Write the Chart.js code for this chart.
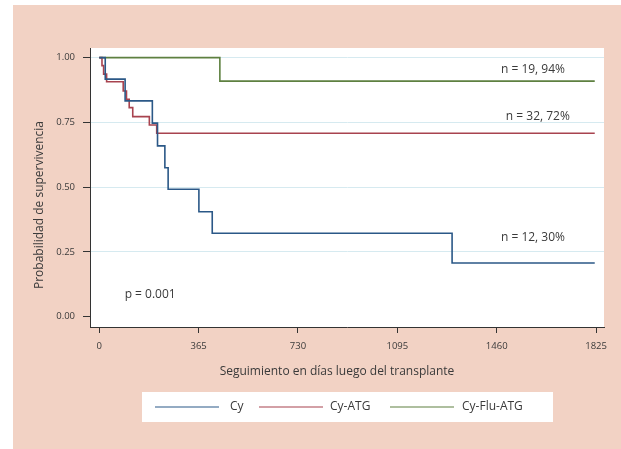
<!DOCTYPE html>
<html><head><meta charset="utf-8">
<script src="https://cdn.jsdelivr.net/npm/chart.js@4.4.0/dist/chart.umd.min.js"></script>
<style>html,body{margin:0;padding:0;background:#fff;}#wrap{width:621px;height:449px;position:relative}</style>
</head><body><div id="wrap"><canvas id="c" width="621" height="449"></canvas></div>
<script>
// ---- data ----
const xTicks = [0, 365, 730, 1095, 1460, 1825];
const yTicks = [0, 0.25, 0.5, 0.75, 1];
const seriesNames = ['Cy', 'Cy-ATG', 'Cy-Flu-ATG'];
const cyDays  = [0, 22, 95, 195, 214, 241, 253, 366, 415, 1296, 1820];
const cySurv  = [1, 0.917, 0.833, 0.747, 0.659, 0.575, 0.492, 0.405, 0.322, 0.207, 0.207];
const atgDays = [0, 10, 16, 27, 88, 100, 110, 123, 184, 211, 1820];
const atgSurv = [1, 0.969, 0.936, 0.907, 0.871, 0.839, 0.807, 0.772, 0.740, 0.708, 0.708];
const fluDays = [0, 443, 1820];
const fluSurv = [1, 0.909, 0.909];
const groupLabels = ['n = 12, 30%', 'n = 32, 72%', 'n = 19, 94%'];
const pText = 'p = 0.001';
const xTitle = 'Seguimiento en días luego del transplante';
const yTitle = 'Probabilidad de supervivencia';

const FONT = "'Open Sans', 'Noto Sans', sans-serif";
const TXT = '#3a3a3a';
const colors = ['#2b5887', '#a8434f', '#5e8040'];

const toPts = (d, s) => d.map((x, i) => ({x, y: s[i]}));
const datasets = [
  {label: seriesNames[0], data: toPts(cyDays, cySurv)},
  {label: seriesNames[1], data: toPts(atgDays, atgSurv)},
  {label: seriesNames[2], data: toPts(fluDays, fluSurv)}
].map((d, i) => Object.assign(d, {borderColor: colors[i], borderWidth: 1.6, pointRadius: 0, stepped: 'before', fill: false}));

const deco = {
  id: 'deco',
  beforeDraw(chart) {
    const {ctx, chartArea: a} = chart;
    ctx.save();
    ctx.fillStyle = '#fff'; ctx.fillRect(0, 0, chart.width, chart.height);
    ctx.fillStyle = '#f2d2c4'; ctx.fillRect(13, 5, chart.width - 13, chart.height - 5);
    ctx.fillStyle = '#fff'; ctx.fillRect(a.left, a.top, a.right - a.left, a.bottom - a.top);
    ctx.restore();
  },
  afterDraw(chart) {
    const {ctx, scales: {x, y}} = chart;
    ctx.save();
    ctx.fillStyle = TXT;
    ctx.textAlign = 'center'; ctx.textBaseline = 'middle';
    ctx.font = '12px ' + FONT;
    // annotations
    const ann = [[1593, 0.953, groupLabels[2]], [1611, 0.772, groupLabels[1]], [1593, 0.305, groupLabels[0]], [187, 0.084, pText]];
    ann.forEach(([dx, dy, t]) => ctx.fillText(t, x.getPixelForValue(dx), y.getPixelForValue(dy)));
    // axis titles
    ctx.fillText(xTitle, 337, 372);
    ctx.save(); ctx.translate(40, 205); ctx.rotate(-Math.PI / 2); ctx.fillText(yTitle, 0, 0); ctx.restore();
    // legend
    ctx.fillStyle = '#fff'; ctx.fillRect(142, 392, 411, 30);
    const items = [[155, 219, 230], [259, 323, 330], [390, 454, 462]];
    ctx.textAlign = 'left';
    items.forEach(([x0, x1, tx], i) => {
      ctx.strokeStyle = colors[i]; ctx.lineWidth = 1.2;
      ctx.beginPath(); ctx.moveTo(x0, 407); ctx.lineTo(x1, 407); ctx.stroke();
      ctx.fillStyle = TXT; ctx.fillText(chart.data.datasets[i].label, tx, 407);
    });
    ctx.restore();
  }
};

new Chart(document.getElementById('c'), {
  type: 'line',
  data: {datasets},
  options: {
    responsive: false, animation: false, devicePixelRatio: 1,
    layout: {padding: {left: 0, right: 17, top: 48, bottom: 0}},
    plugins: {legend: {display: false}, tooltip: {enabled: false}},
    scales: {
      x: {
        type: 'linear', min: -34, max: 1854,
        afterBuildTicks: s => { s.ticks = xTicks.map(v => ({value: v})); },
        afterFit: s => { s.height = 122; },
        grid: {drawOnChartArea: false, tickLength: 6, tickColor: '#333', color: '#333'},
        border: {color: '#333', width: 1},
        ticks: {font: {family: FONT, size: 9.5}, color: TXT, padding: 8, maxRotation: 0, autoSkip: false, callback: v => String(v)}
      },
      y: {
        min: -0.04, max: 1.037,
        afterBuildTicks: s => { s.ticks = yTicks.map(v => ({value: v})); },
        afterFit: s => { s.width = 90; },
        grid: {color: c => (c.tick && c.tick.value === 0) ? 'rgba(0,0,0,0)' : '#d6eaf0', tickColor: '#333', tickLength: 7, lineWidth: 1},
        border: {color: '#333', width: 1},
        ticks: {font: {family: FONT, size: 9.5}, color: TXT, padding: 8, autoSkip: false, callback: v => v.toFixed(2)}
      }
    }
  },
  plugins: [deco]
});
</script></body></html>
